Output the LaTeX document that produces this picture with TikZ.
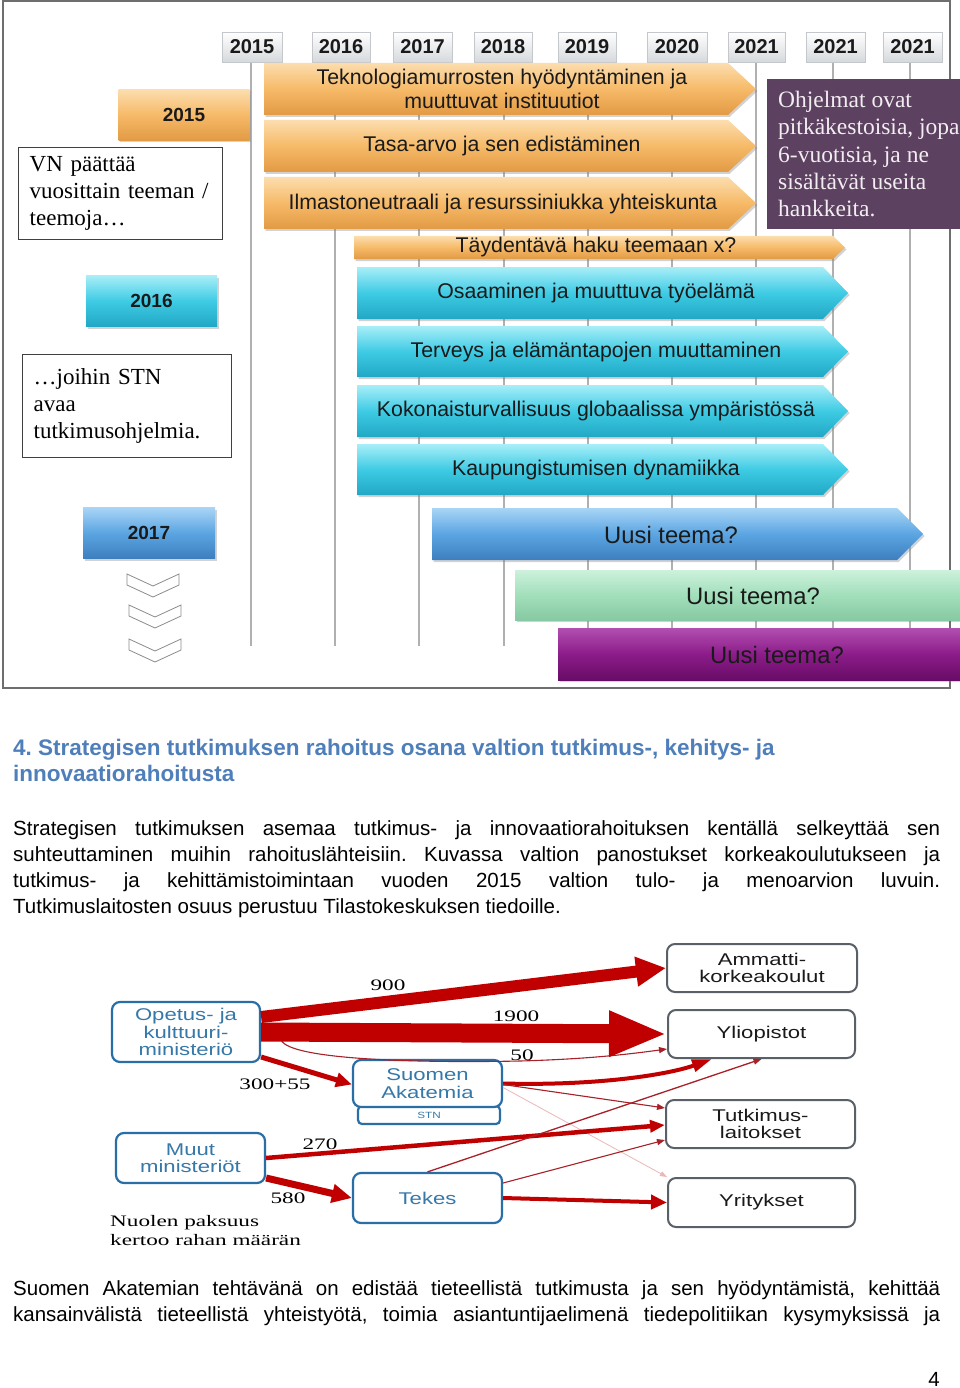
\documentclass[tikz,border=0pt]{standalone}
\usepackage{fontspec}
\setmainfont{Liberation Sans}
\newfontfamily\tnr{Liberation Serif}
\newfontfamily\wideserif[FakeStretch=1.45]{Liberation Serif}
\newfontfamily\widesans[FakeStretch=1.3]{Liberation Sans}
\usetikzlibrary{arrows.meta,shadows,calc}
\frenchspacing
\definecolor{orgTop}{HTML}{FCDDAE}
\definecolor{orgMid}{HTML}{F6BA68}
\definecolor{orgBot}{HTML}{E29A44}
\definecolor{cyTop}{HTML}{A8EEF8}
\definecolor{cyMid}{HTML}{3ECBE4}
\definecolor{cyBot}{HTML}{21A7C4}
\definecolor{blTop}{HTML}{A9D5F6}
\definecolor{blMid}{HTML}{5BA5E2}
\definecolor{blBot}{HTML}{3D7EBF}
\definecolor{grTop}{HTML}{CDF1DC}
\definecolor{grMid}{HTML}{A2DFBB}
\definecolor{grBot}{HTML}{86C9A2}
\definecolor{puTop}{HTML}{B24FB1}
\definecolor{puMid}{HTML}{8C1C8A}
\definecolor{puBot}{HTML}{680C66}
\definecolor{boxPurple}{HTML}{5D4160}
\definecolor{ohjText}{HTML}{F1EDF1}
\definecolor{gridGray}{HTML}{B0B0B0}
\definecolor{frameGray}{HTML}{6E6E6E}
\definecolor{chevGray}{HTML}{8C8C8C}
\definecolor{yearBot}{HTML}{D6D9DC}
\definecolor{yearBorder}{HTML}{C4C8CC}
\definecolor{headBlue}{HTML}{4F7FBA}
\definecolor{fundBlue}{HTML}{2A6EA6}
\definecolor{fundText}{HTML}{3678A8}
\definecolor{recvGray}{HTML}{5A6068}
\definecolor{arrRed}{HTML}{C00000}
\definecolor{thinRed}{HTML}{A82028}
\definecolor{faintRed}{HTML}{EBB8B8}
\definecolor{darkText}{HTML}{1A1A1A}
\newcommand\barshape[6]{\path[#1] (#2,#3) -- (#4,#3) -- (#5,{(#3+#6)/2}) -- (#4,#6) -- (#2,#6) -- cycle;}
\tikzset{
  gridline/.style={draw=gridGray, line width=1.4pt},
  barshadow/.style={drop shadow={shadow xshift=1.5pt,shadow yshift=-2pt,opacity=0.35}},
  orangebar/.style={barshadow, top color=orgTop, bottom color=orgBot, middle color=orgMid},
  cyanbar/.style={barshadow, top color=cyTop, bottom color=cyBot, middle color=cyMid},
  bluebar/.style={barshadow, top color=blTop, bottom color=blBot, middle color=blMid},
  greenbar/.style={barshadow, top color=grTop, bottom color=grBot, middle color=grMid},
  purplebar/.style={barshadow, top color=puTop, bottom color=puBot, middle color=puMid},
  yearbox/.style={draw=yearBorder, line width=0.6pt, top color=white, bottom color=yearBot,
     drop shadow={opacity=0.25, shadow xshift=1pt, shadow yshift=-1.5pt},
     minimum height=30, inner sep=0, text=darkText, font=\bfseries\fontsize{20}{22}\selectfont},
  sidebox/.style={minimum width=131, minimum height=51, inner sep=0, text=darkText,
     font=\bfseries\fontsize{19}{22}\selectfont},
  bartext/.style={inner sep=0, align=center, text=darkText, font=\fontsize{21.3}{24}\selectfont},
  newtext/.style={inner sep=0, text=darkText, font=\fontsize{23.8}{26}\selectfont},
  notebox/.style={draw=black!75, line width=1.4pt, fill=white, anchor=north west, align=left,
     text=black, inner xsep=11, inner ysep=0, font=\tnr\fontsize{23}{27}\selectfont},
  chev/.style={draw=chevGray, line width=0.8pt, fill=white},
  fundbox/.style={draw=fundBlue, line width=2.2pt, rounded corners=8, fill=white, align=center,
     text=fundText, inner sep=0, font=\widesans\fontsize{17}{17.5}\selectfont},
  recvbox/.style={draw=recvGray, line width=2pt, rounded corners=8, fill=white, align=center,
     text=darkText, inner sep=0, font=\widesans\fontsize{17}{17.5}\selectfont},
  flowlab/.style={inner sep=0, text=black, font=\wideserif\fontsize{16}{19}\selectfont},
  bigred/.style={draw=arrRed, line cap=butt},
  thinred/.style={draw=thinRed, line width=1.1pt, -{Triangle[length=8pt,width=6pt]}},
  bodyline/.style={anchor=base west, inner sep=0, text=black, font=\fontsize{20.5}{23}\selectfont},
  headline/.style={anchor=base west, inner sep=0, text=headBlue, font=\bfseries\fontsize{22.5}{23}\selectfont}
}
\begin{document}
\begin{tikzpicture}[x=1pt,y=-1pt]
\useasboundingbox (0,0) rectangle (960,1388);
\fill[white] (0,0) rectangle (960,1388);
% heading and text
\node[headline] (h1) at (13,755) {4. Strategisen tutkimuksen rahoitus osana valtion tutkimus-, kehitys- ja};
\node[headline] (h2) at (13,781) {innovaatiorahoitusta};
\node[bodyline] (p1) at (13,835) {\makebox[927pt][s]{Strategisen tutkimuksen asemaa tutkimus- ja innovaatiorahoituksen kentällä selkeyttää sen}};
\node[bodyline] (p2) at (13,861) {\makebox[927pt][s]{suhteuttaminen muihin rahoituslähteisiin. Kuvassa valtion panostukset korkeakoulutukseen ja}};
\node[bodyline] (p3) at (13,887) {\makebox[927pt][s]{tutkimus- ja kehittämistoimintaan vuoden 2015 valtion tulo- ja menoarvion luvuin.}};
\node[bodyline] (p4) at (13,913) {Tutkimuslaitosten osuus perustuu Tilastokeskuksen tiedoille.};
\node[bodyline] (q1) at (13,1295) {\makebox[927pt][s]{Suomen Akatemian tehtävänä on edistää tieteellistä tutkimusta ja sen hyödyntämistä, kehittää}};
\node[bodyline] (q2) at (13,1321) {\makebox[927pt][s]{kansainvälistä tieteellistä yhteistyötä, toimia asiantuntijaelimenä tiedepolitiikan kysymyksissä ja}};
\node[bodyline, anchor=base east] (pg) at (940,1386) {4};
% frame
\draw[draw=frameGray, line width=1.5pt] (3,1) rectangle (950,688);
% grid lines
\foreach \gx in {251,335,419,504,588,672,756,833,910}
  \draw[gridline] (\gx,62) -- (\gx,646);
% chevrons
\draw[chev] (127,574) -- (153,586) -- (179,574) -- (179,585) -- (153,597) -- (127,585) -- cycle;
\draw[chev] (129,605) -- (155,617) -- (181,605) -- (181,616) -- (155,628) -- (129,616) -- cycle;
\draw[chev] (129,639) -- (155,651) -- (181,639) -- (181,650) -- (155,662) -- (129,650) -- cycle;
% note boxes
\node[notebox, text width=182, minimum height=92] (vn) at (18,147) {VN päättää\\vuosittain teeman /\\teemoja…};
\node[notebox, text width=187, minimum height=103] (stn) at (22,354) {…joihin STN\\avaa\\tutkimusohjelmia.};
% year headers
\node[yearbox, minimum width=60] (y1) at (252,47) {2015};
\node[yearbox, minimum width=58] (y2) at (341,47) {2016};
\node[yearbox, minimum width=59] (y3) at (422.5,47) {2017};
\node[yearbox, minimum width=58] (y4) at (503,47) {2018};
\node[yearbox, minimum width=58] (y5) at (587,47) {2019};
\node[yearbox, minimum width=60] (y6) at (677,47) {2020};
\node[yearbox, minimum width=57] (y7) at (756.5,47) {2021};
\node[yearbox, minimum width=59] (y8) at (835.5,47) {2021};
\node[yearbox, minimum width=59] (y9) at (912.5,47) {2021};
% orange bars
\barshape{orangebar}{264}{63}{728}{756}{115}
\barshape{orangebar}{264}{120}{728}{756}{172}
\barshape{orangebar}{264}{177}{728}{756}{229}
\barshape{orangebar}{354}{236}{833}{845}{259}
\node[bartext] (o1) at (502,89) {Teknologiamurrosten hyödyntäminen ja\\muuttuvat instituutiot};
\node[bartext] (o2) at (502,146) {Tasa-arvo ja sen edistäminen};
\node[bartext] (o3) at (503,204) {Ilmastoneutraali ja resurssiniukka yhteiskunta};
\node[bartext] (o4) at (596,247) {Täydentävä haku teemaan x?};
% cyan bars
\barshape{cyanbar}{357}{267}{823}{848}{319}
\barshape{cyanbar}{357}{326}{823}{848}{377}
\barshape{cyanbar}{357}{385}{823}{848}{437}
\barshape{cyanbar}{357}{444}{823}{848}{495}
\node[bartext] (c1) at (596,293) {Osaaminen ja muuttuva työelämä};
\node[bartext] (c2) at (596,352) {Terveys ja elämäntapojen muuttaminen};
\node[bartext] (c3) at (596,411) {Kokonaisturvallisuus globaalissa ympäristössä};
\node[bartext] (c4) at (596,470) {Kaupungistumisen dynamiikka};
% new themes
\barshape{bluebar}{432}{508}{897}{923}{560}
\path[greenbar] (515,570) rectangle (960,620);
\path[purplebar] (558,628) rectangle (960,680);
\node[newtext] (n1) at (671,535) {Uusi teema?};
\node[newtext] (n2) at (753,596) {Uusi teema?};
\node[newtext] (n3) at (777,655) {Uusi teema?};
% left year boxes
\node[sidebox, orangebar] (s1) at (184,115) {2015};
\node[sidebox, cyanbar] (s2) at (151.5,301) {2016};
\node[sidebox, bluebar, minimum width=132] (s3) at (149,533) {2017};
% purple info box
\fill[boxPurple] (767,79) rectangle (960,229);
\node[anchor=north west, text=ohjText, align=left, inner sep=0,
  font=\tnr\fontsize{23.5}{27.3}\selectfont] (ohj) at (778,91)
  {Ohjelmat ovat\\pitkäkestoisia, jopa\\6-vuotisia, ja ne\\sisältävät useita\\hankkeita.};
% flow nodes
\node[fundbox, minimum width=148, minimum height=60] (okm) at (186,1032) {Opetus- ja\\kulttuuri-\\ministeriö};
\node[fundbox, minimum width=149, minimum height=50] (muut) at (190.5,1158) {Muut\\ministeriöt};
\node[fundbox, minimum width=142, minimum height=18, rounded corners=4, font=\widesans\fontsize{9}{10}\selectfont] (stnsub) at (429,1115) {STN};
\node[fundbox, minimum width=149, minimum height=47] (aka) at (427.5,1083.5) {Suomen\\Akatemia};
\node[fundbox, minimum width=149, minimum height=50] (tekes) at (427.5,1198) {Tekes};
\node[recvbox, minimum width=190, minimum height=48] (amk) at (762,968) {Ammatti-\\korkeakoulut};
\node[recvbox, minimum width=187, minimum height=48] (yo) at (761.5,1034) {Yliopistot};
\node[recvbox, minimum width=189, minimum height=48] (tl) at (760.5,1124) {Tutkimus-\\laitokset};
\node[recvbox, minimum width=187, minimum height=49] (yr) at (761.5,1202.5) {Yritykset};
% arrows
\draw[draw=faintRed, line width=0.8pt, -{Triangle[length=7pt,width=5pt]}] ($(aka.east)+(0,4)$) -- (yr.north west);
\draw[thinred] ($(okm.east)+(20,8)$) .. controls (290,1060) and (420,1063) .. (520,1061) .. controls (590,1059) and (630,1054) .. ($(yo.west)+(0,15)$);
\draw[bigred, line width=12pt, -{Triangle[length=30pt,width=28pt]}] ($(okm.east)+(0,-15)$) -- (amk.west);
\draw[bigred, line width=19pt, -{Triangle[length=58pt,width=42pt]}] (okm.east) -- (yo.west);
\draw[bigred, line width=5pt, -{Triangle[length=16pt,width=14pt]}] ($(okm.east)+(0,25)$) -- ($(aka.west)+(0,1)$);
\draw[bigred, line width=4.5pt, -{Triangle[length=15pt,width=12pt]}] (muut.east) -- ($(tl.west)+(0,1)$);
\draw[bigred, line width=7pt, -{Triangle[length=20pt,width=18pt]}] ($(muut.east)+(0,20)$) -- (tekes.west);
\draw[bigred, line width=4pt, -{Triangle[length=20pt,width=12pt]}] (aka.east) .. controls (600,1086) and (670,1074) .. ($(yo.south west)+(45,0)$);
\draw[thinred] ($(aka.east)+(0,1)$) -- ($(tl.west)+(0,-16)$);
\draw[thinred, line width=1.3pt] (tekes.north) -- (yo.south);
\draw[thinred] ($(tekes.east)+(0,-15)$) -- ($(tl.west)+(0,16)$);
\draw[bigred, line width=4pt, -{Triangle[length=16pt,width=14pt]}] (tekes.east) -- (yr.west);
% flow labels
\node[flowlab] (l1) at (388,985) {900};
\node[flowlab] (l2) at (516,1016) {1900};
\node[flowlab] (l3) at (522,1055) {50};
\node[flowlab] (l4) at (275,1084) {300+55};
\node[flowlab] (l5) at (320,1144) {270};
\node[flowlab] (l6) at (288,1198) {580};
\node[flowlab, anchor=north west, align=left] (note) at (110,1215) {Nuolen paksuus\\kertoo rahan määrän};
\end{tikzpicture}
\end{document}
